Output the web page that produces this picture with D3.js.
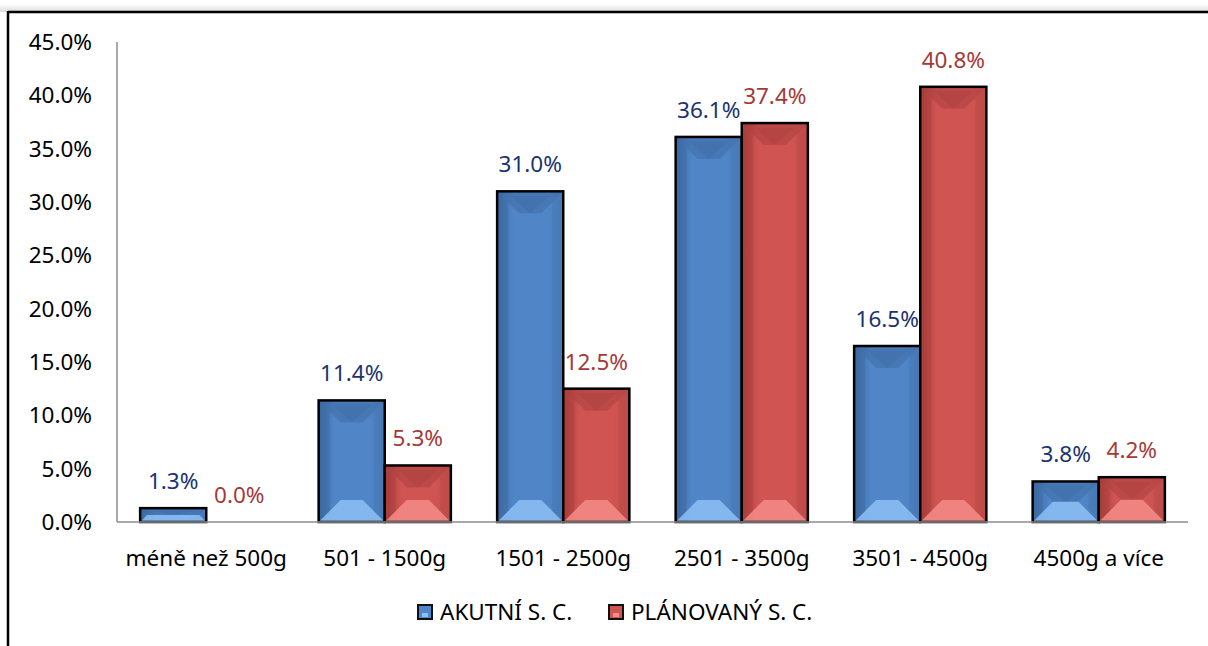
<!DOCTYPE html>
<html><head><meta charset="utf-8">
<script src="https://cdn.jsdelivr.net/npm/d3@7"></script>
<style>body{margin:0;background:#fff;}svg{display:block;font-family:"Noto Sans","Open Sans",sans-serif;}</style>
</head><body>
<svg id="c" width="1208" height="646"></svg>
<script>
const categories = ["méně než 500g","501 - 1500g","1501 - 2500g","2501 - 3500g","3501 - 4500g","4500g a více"];
const seriesNames = ["AKUTNÍ S. C.","PLÁNOVANÝ S. C."];
const akutni = [1.3, 11.4, 31.0, 36.1, 16.5, 3.8];
const planovany = [0.0, 5.3, 12.5, 37.4, 40.8, 4.2];
const yTicks = [0,5,10,15,20,25,30,35,40,45];

const FS = 22.5;
const svg = d3.select("#c");
const defs = svg.append("defs");
const colors = [
  {base:"#5086c8", dark:"#3b689f", light:"#8cc0f5", label:"#1b3370"},
  {base:"#d05552", dark:"#a53c3a", light:"#f58c88", label:"#a33a38"}
];
colors.forEach((c,i)=>{
  const g = defs.append("linearGradient").attr("id","hg"+i).attr("x1",0).attr("x2",1).attr("y1",0).attr("y2",0);
  g.append("stop").attr("offset","0").attr("stop-color",c.dark);
  g.append("stop").attr("offset","0.25").attr("stop-color",c.base);
  g.append("stop").attr("offset","0.75").attr("stop-color",c.base);
  g.append("stop").attr("offset","1").attr("stop-color",d3.color(c.base).darker(0.2));
});
const sh = defs.append("linearGradient").attr("id","shadow").attr("x1",0).attr("x2",0).attr("y1",0).attr("y2",1);
sh.append("stop").attr("offset","0").attr("stop-color","#fff");
sh.append("stop").attr("offset","1").attr("stop-color","#dcdcdc");

// frame
svg.append("rect").attr("x",0).attr("y",4).attr("width",1208).attr("height",8).attr("fill","url(#shadow)");
svg.append("line").attr("x1",8).attr("x2",1208).attr("y1",12).attr("y2",12).attr("stroke","#000").attr("stroke-width",2.5);
svg.append("line").attr("x1",8).attr("x2",8).attr("y1",11).attr("y2",646).attr("stroke","#000").attr("stroke-width",2.5);

const x0 = d3.scaleBand().domain(categories).range([117,1188]).paddingInner(0).paddingOuter(0);
const x1 = d3.scaleBand().domain([0,1]).range([0,x0.bandwidth()]).paddingOuter(0.35).paddingInner(0);
const y = d3.scaleLinear().domain([0,45]).range([522,42]);

// y labels
svg.append("g").selectAll("text").data(yTicks).join("text")
  .attr("x",92).attr("y",d=>y(d)).attr("dy","0.35em").attr("text-anchor","end")
  .attr("font-size",FS).attr("fill","#000").text(d=>d.toFixed(1)+"%");

// axis line
svg.append("line").attr("x1",117).attr("x2",117).attr("y1",y(45)).attr("y2",y(0)).attr("stroke","#8c8c8c").attr("stroke-width",1.5);

const data = [akutni, planovany];
const bars = svg.append("g");
categories.forEach((cat,ci)=>{
  [0,1].forEach(si=>{
    const v = data[si][ci];
    const bx = x0(cat)+x1(si), bw = x1.bandwidth();
    const by = y(v), bh = y(0)-y(v);
    const c = colors[si];
    const g = bars.append("g");
    if (bh > 0) {
      g.append("rect").attr("x",bx).attr("y",by).attr("width",bw).attr("height",bh).attr("fill","url(#hg"+si+")");
      const b = Math.min(22, bh/2, bw/2);
      const xa=bx, xb=bx+bw, ya=by, yb=by+bh;
      g.append("path").attr("d",`M${xa},${ya}L${xb},${ya}L${xb-b},${ya+b}L${xa+b},${ya+b}Z`).attr("fill",c.dark).attr("opacity",0.45);
      g.append("path").attr("d",`M${xa+b*0.6},${ya+b*0.2}L${xb-b*0.6},${ya+b*0.2}L${(xa+xb)/2},${ya+b}Z`).attr("fill",c.dark).attr("opacity",0.3);
      g.append("path").attr("d",`M${xa},${yb}L${xb},${yb}L${xb-b},${yb-b}L${xa+b},${yb-b}Z`).attr("fill",c.light).attr("opacity",0.85);
      g.append("path").attr("d",`M${xa},${ya}L${xa+b*0.5},${ya+b*0.5}L${xa+b*0.5},${yb-b*0.5}L${xa},${yb}Z`).attr("fill",c.dark).attr("opacity",0.35);
      g.append("path").attr("d",`M${xb},${ya}L${xb-b*0.5},${ya+b*0.5}L${xb-b*0.5},${yb-b*0.5}L${xb},${yb}Z`).attr("fill",c.dark).attr("opacity",0.2);
      g.append("rect").attr("x",bx).attr("y",by).attr("width",bw).attr("height",bh).attr("fill","none").attr("stroke","#000").attr("stroke-width",2.5);
    }
    svg.append("text").attr("x",bx+bw/2).attr("y",by-27).attr("dy","0.35em").attr("text-anchor","middle")
      .attr("font-size",FS).attr("fill",c.label).text(v.toFixed(1)+"%");
  });
});

svg.append("line").attr("x1",117).attr("x2",1188).attr("y1",y(0)).attr("y2",y(0)).attr("stroke","#8c8c8c").attr("stroke-width",1.5);

// category labels
svg.append("g").selectAll("text").data(categories).join("text")
  .attr("x",d=>x0(d)+x0.bandwidth()/2).attr("y",558).attr("dy","0.35em").attr("text-anchor","middle")
  .attr("font-size",FS).attr("fill","#000").text(d=>d);

// legend
const legX = [418, 609];
seriesNames.forEach((n,i)=>{
  const c = colors[i];
  const g = svg.append("g");
  g.append("rect").attr("x",legX[i]).attr("y",605).attr("width",14).attr("height",14).attr("fill",c.base).attr("stroke","#111").attr("stroke-width",2);
  g.append("rect").attr("x",legX[i]+4).attr("y",613).attr("width",6).attr("height",4).attr("fill",c.light);
  g.append("text").attr("x",legX[i]+22).attr("y",612).attr("dy","0.35em").attr("font-size",FS).attr("fill","#000").text(n);
});
</script>
</body></html>
